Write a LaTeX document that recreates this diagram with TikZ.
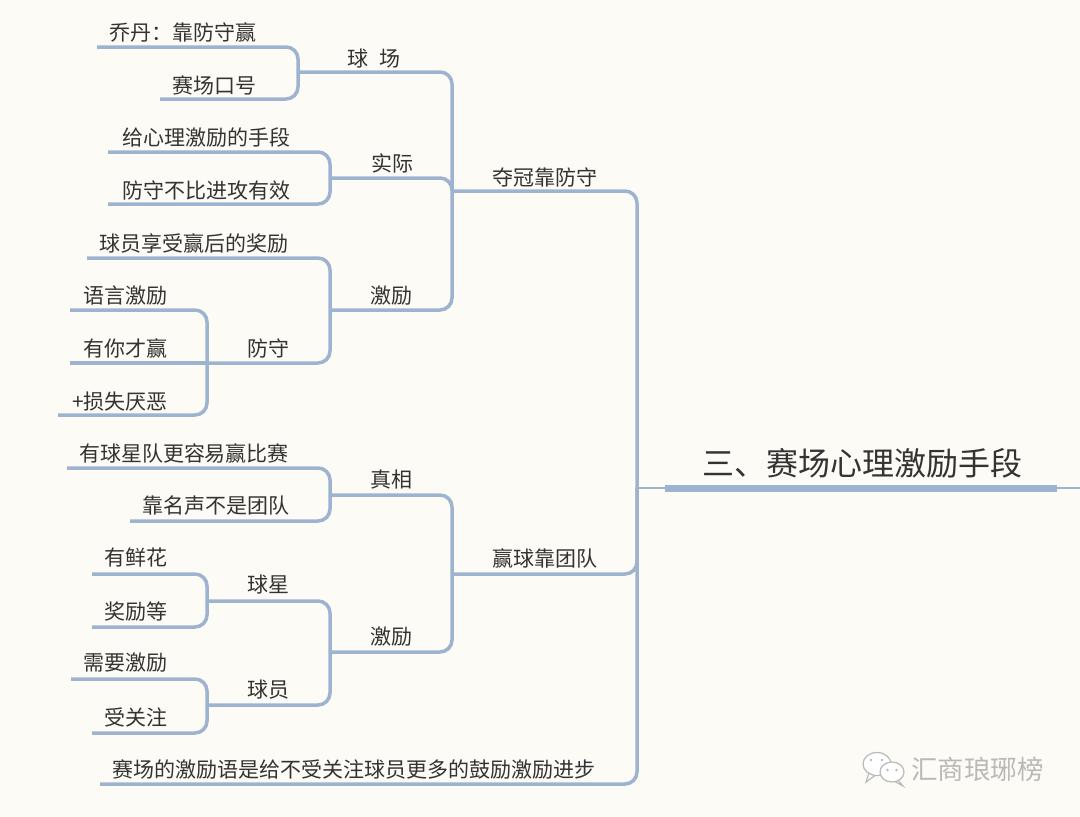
\documentclass[tikz,border=0pt]{standalone}
\usepackage{fontspec}
\newfontfamily\cjk{Noto Sans CJK SC}
\definecolor{bg}{RGB}{253,251,245}
\definecolor{lc}{RGB}{157,179,207}
\definecolor{tc}{RGB}{51,51,51}
\definecolor{wm}{RGB}{185,185,185}
\begin{document}
\begin{tikzpicture}[x=1pt,y=-1pt,
  br/.style={draw=lc,line width=3.5pt,rounded corners=12pt},
  txt/.style={font=\cjk\fontsize{21}{21}\selectfont,text=tc,inner sep=0pt,anchor=center},
  ttl/.style={font=\cjk\fontsize{32}{32}\selectfont,text=tc,inner sep=0pt,anchor=center},
  wmtxt/.style={font=\cjk\fontsize{26.5}{26.5}\selectfont,text=wm,inner sep=0pt,anchor=center},
  bubble/.style={draw=wm,fill=white,line width=1.2pt}]
\fill[bg] (0,0) rectangle (1080,817);
\useasboundingbox (0,0) rectangle (1080,817);
% coordinates (line left ends)
\coordinate (R) at (637,488);
\coordinate (A) at (452,191);
\coordinate (B) at (452,574);
\coordinate (C) at (100,784);
\coordinate (A1) at (298,72);
\coordinate (A2) at (330,178);
\coordinate (A3) at (330,310);
\coordinate (A1a) at (97,47);
\coordinate (A1b) at (160,99);
\coordinate (A2a) at (108,152);
\coordinate (A2b) at (108,204);
\coordinate (A3a) at (87,258);
\coordinate (A3b) at (207,363);
\coordinate (A3b1) at (70,310);
\coordinate (A3b2) at (70,363);
\coordinate (A3b3) at (58,415);
\coordinate (B1) at (330,495);
\coordinate (B2) at (330,652);
\coordinate (B1a) at (67,468);
\coordinate (B1b) at (130,521);
\coordinate (B2a) at (207,601);
\coordinate (B2b) at (207,705);
\coordinate (B2a1) at (92,574);
\coordinate (B2a2) at (92,627);
\coordinate (B2b1) at (71,679);
\coordinate (B2b2) at (92,733);
\coordinate (Rt1) at (665,488);
\coordinate (Rt2) at (1057,488);
\coordinate (Rend) at (1080,488);
% connectors
\draw[br] (A) -| (R);
\draw[br] (B) -| (R);
\draw[br] (C) -| (R);
\draw[br] (A1) -| (A);
\draw[br] (A2) -| (A);
\draw[br] (A3) -| (A);
\draw[br] (A1a) -| (A1);
\draw[br] (A1b) -| (A1);
\draw[br] (A2a) -| (A2);
\draw[br] (A2b) -| (A2);
\draw[br] (A3a) -| (A3);
\draw[br] (A3b) -| (A3);
\draw[br] (A3b1) -| (A3b);
\draw[br] (A3b2) -- (A3b);
\draw[br] (A3b3) -| (A3b);
\draw[br] (B1) -| (B);
\draw[br] (B2) -| (B);
\draw[br] (B1a) -| (B1);
\draw[br] (B1b) -| (B1);
\draw[br] (B2a) -| (B2);
\draw[br] (B2b) -| (B2);
\draw[br] (B2a1) -| (B2a);
\draw[br] (B2a2) -| (B2a);
\draw[br] (B2b1) -| (B2b);
\draw[br] (B2b2) -| (B2b);
\draw[lc,line width=2pt] (R) -- (Rend);
\draw[lc,line width=7pt] (Rt1) -- (Rt2);
% texts
\node[ttl] (T) at (862,463) {三、赛场心理激励手段};
\node[txt] (At) at (545,177) {夺冠靠防守};
\node[txt] (Bt) at (545,558) {赢球靠团队};
\node[txt] (Ct) at (354,770) {赛场的激励语是给不受关注球员更多的鼓励激励进步};
\node[txt] (A1t) at (374,59) {球\kern0.55em 场};
\node[txt] (A2t) at (392,163) {实际};
\node[txt] (A3t) at (391,296) {激励};
\node[txt] (A1at) at (183,32) {乔丹：靠防守赢};
\node[txt] (A1bt) at (214,85) {赛场口号};
\node[txt] (A2at) at (206,138) {给心理激励的手段};
\node[txt] (A2bt) at (206,190) {防守不比进攻有效};
\node[txt] (A3at) at (194,243) {球员享受赢后的奖励};
\node[txt] (A3bt) at (268,348) {防守};
\node[txt] (A3b1t) at (125,296) {语言激励};
\node[txt] (A3b2t) at (125,348) {有你才赢};
\node[txt] (A3b3t) at (120,402) {+损失厌恶};
\node[txt] (B1t) at (391,479) {真相};
\node[txt] (B2t) at (391,637) {激励};
\node[txt] (B1at) at (184,453) {有球星队更容易赢比赛};
\node[txt] (B1bt) at (216,506) {靠名声不是团队};
\node[txt] (B2at) at (268,585) {球星};
\node[txt] (B2bt) at (268,690) {球员};
\node[txt] (B2a1t) at (136,558) {有鲜花};
\node[txt] (B2a2t) at (136,612) {奖励等};
\node[txt] (B2b1t) at (125,663) {需要激励};
\node[txt] (B2b2t) at (136,717) {受关注};
% watermark
\draw[bubble] (869,773) -- (866,782) -- (875,775.5);
\draw[bubble] (877,764) ellipse [x radius=14,y radius=11.5];
\fill[wm] (871,760) circle (1.4) (882,760) circle (1.4);
\draw[bubble] (897,779) -- (903,786) -- (894,781);
\draw[bubble] (892,772) ellipse [x radius=12,y radius=10];
\fill[wm] (887.5,770) circle (1.3) (896.5,770) circle (1.3);
\node[wmtxt] (W) at (977.5,769) {汇商琅琊榜};
\end{tikzpicture}
\end{document}
